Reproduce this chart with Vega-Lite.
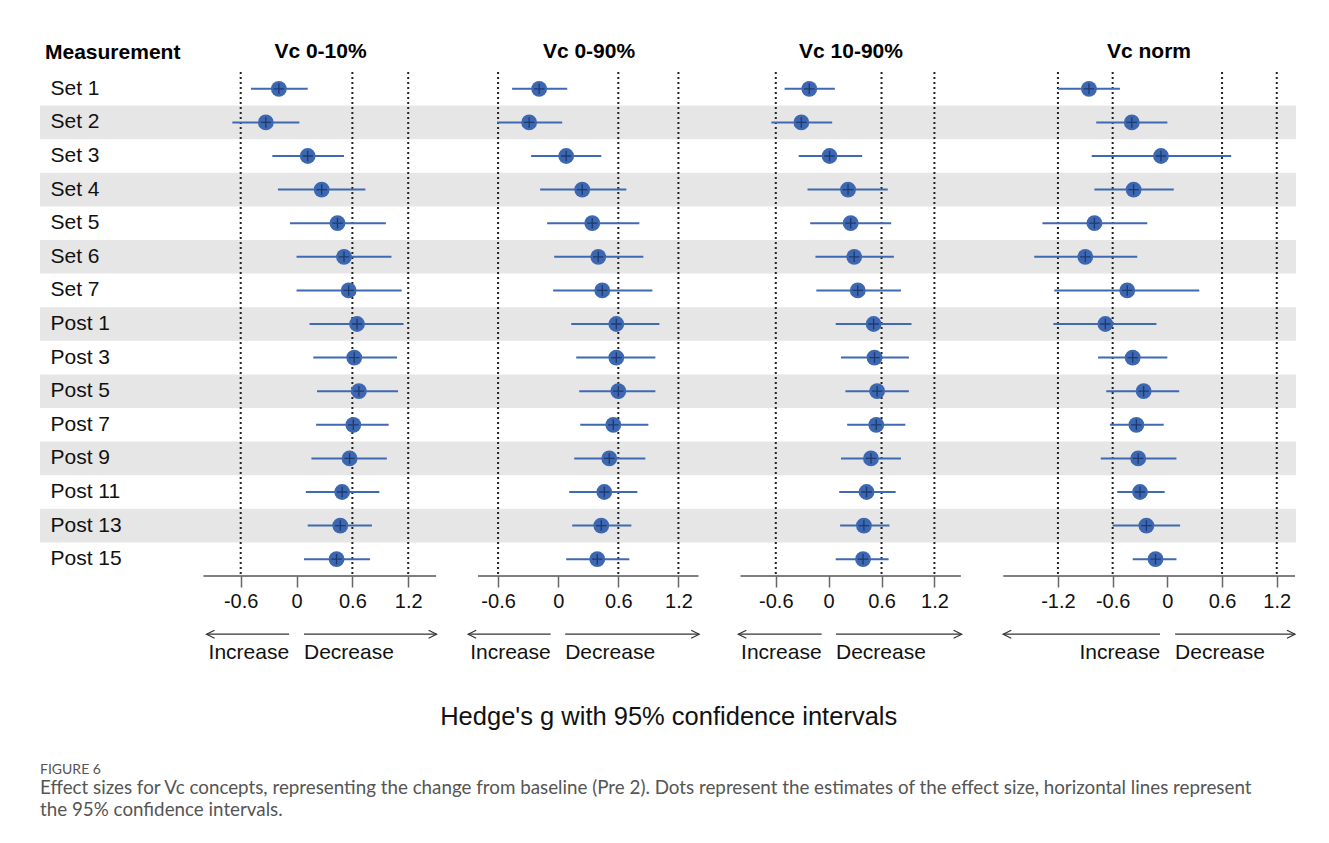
{
  "$schema": "https://vega.github.io/schema/vega-lite/v6.json",
  "background": "white",
  "padding": {"left": 40, "top": 41, "right": 0, "bottom": 0},
  "autosize": {"type": "pad"},
  "config": {
    "font": "Liberation Sans",
    "view": {"stroke": null},
    "locale": {"number": {"decimal": ".", "thousands": ",", "grouping": [3], "currency": ["$", ""], "minus": "-"}},
    "axisX": {"domain": false, "grid": false, "tickSize": 11, "tickColor": "#666", "tickWidth": 1.5, "labelFontSize": 20, "labelColor": "#111", "labelPadding": 4, "title": null, "labelFlush": false, "labelOverlap": false, "format": "~g"},
    "title": {"fontSize": 21, "fontWeight": "bold", "color": "#000", "baseline": "alphabetic", "offset": 9}
  },
  "datasets": {
    "bands": [{"m": "Set 2"}, {"m": "Set 4"}, {"m": "Set 6"}, {"m": "Post 1"}, {"m": "Post 5"}, {"m": "Post 9"}, {"m": "Post 13"}],
    "arrows": [
      {"panel": "Vc 0-10%", "side": "left", "from": -0.967, "to": -0.08, "label": "Increase"},
      {"panel": "Vc 0-10%", "side": "right", "from": 0.08, "to": 1.505, "label": "Decrease"},
      {"panel": "Vc 0-90%", "side": "left", "from": -0.898, "to": -0.075, "label": "Increase"},
      {"panel": "Vc 0-90%", "side": "right", "from": 0.07, "to": 1.407, "label": "Decrease"},
      {"panel": "Vc 10-90%", "side": "left", "from": -1.025, "to": -0.08, "label": "Increase"},
      {"panel": "Vc 10-90%", "side": "right", "from": 0.083, "to": 1.509, "label": "Decrease"},
      {"panel": "Vc norm", "side": "left", "from": -1.8, "to": -0.08, "label": "Increase"},
      {"panel": "Vc norm", "side": "right", "from": 0.085, "to": 1.4, "label": "Decrease"}
    ],
    "est": [
      {"panel": "Vc 0-10%", "m": "Set 1", "g": -0.19, "lo": -0.49, "hi": 0.12},
      {"panel": "Vc 0-10%", "m": "Set 2", "g": -0.33, "lo": -0.69, "hi": 0.03},
      {"panel": "Vc 0-10%", "m": "Set 3", "g": 0.12, "lo": -0.26, "hi": 0.51},
      {"panel": "Vc 0-10%", "m": "Set 4", "g": 0.27, "lo": -0.2, "hi": 0.74},
      {"panel": "Vc 0-10%", "m": "Set 5", "g": 0.44, "lo": -0.07, "hi": 0.96},
      {"panel": "Vc 0-10%", "m": "Set 6", "g": 0.51, "lo": 0.0, "hi": 1.02},
      {"panel": "Vc 0-10%", "m": "Set 7", "g": 0.56, "lo": 0.0, "hi": 1.13},
      {"panel": "Vc 0-10%", "m": "Post 1", "g": 0.65, "lo": 0.14, "hi": 1.15},
      {"panel": "Vc 0-10%", "m": "Post 3", "g": 0.62, "lo": 0.18, "hi": 1.08},
      {"panel": "Vc 0-10%", "m": "Post 5", "g": 0.67, "lo": 0.22, "hi": 1.09},
      {"panel": "Vc 0-10%", "m": "Post 7", "g": 0.61, "lo": 0.21, "hi": 0.99},
      {"panel": "Vc 0-10%", "m": "Post 9", "g": 0.57, "lo": 0.16, "hi": 0.97},
      {"panel": "Vc 0-10%", "m": "Post 11", "g": 0.49, "lo": 0.1, "hi": 0.89},
      {"panel": "Vc 0-10%", "m": "Post 13", "g": 0.47, "lo": 0.12, "hi": 0.81},
      {"panel": "Vc 0-10%", "m": "Post 15", "g": 0.43, "lo": 0.08, "hi": 0.79},
      {"panel": "Vc 0-90%", "m": "Set 1", "g": -0.19, "lo": -0.46, "hi": 0.09},
      {"panel": "Vc 0-90%", "m": "Set 2", "g": -0.29, "lo": -0.61, "hi": 0.04},
      {"panel": "Vc 0-90%", "m": "Set 3", "g": 0.08, "lo": -0.27, "hi": 0.43},
      {"panel": "Vc 0-90%", "m": "Set 4", "g": 0.24, "lo": -0.18, "hi": 0.68},
      {"panel": "Vc 0-90%", "m": "Set 5", "g": 0.34, "lo": -0.11, "hi": 0.81},
      {"panel": "Vc 0-90%", "m": "Set 6", "g": 0.4, "lo": -0.04, "hi": 0.85},
      {"panel": "Vc 0-90%", "m": "Set 7", "g": 0.44, "lo": -0.05, "hi": 0.94},
      {"panel": "Vc 0-90%", "m": "Post 1", "g": 0.58, "lo": 0.13, "hi": 1.01},
      {"panel": "Vc 0-90%", "m": "Post 3", "g": 0.58, "lo": 0.18, "hi": 0.97},
      {"panel": "Vc 0-90%", "m": "Post 5", "g": 0.6, "lo": 0.21, "hi": 0.97},
      {"panel": "Vc 0-90%", "m": "Post 7", "g": 0.55, "lo": 0.22, "hi": 0.9},
      {"panel": "Vc 0-90%", "m": "Post 9", "g": 0.51, "lo": 0.16, "hi": 0.87},
      {"panel": "Vc 0-90%", "m": "Post 11", "g": 0.46, "lo": 0.11, "hi": 0.79},
      {"panel": "Vc 0-90%", "m": "Post 13", "g": 0.43, "lo": 0.14, "hi": 0.73},
      {"panel": "Vc 0-90%", "m": "Post 15", "g": 0.39, "lo": 0.08, "hi": 0.71},
      {"panel": "Vc 10-90%", "m": "Set 1", "g": -0.22, "lo": -0.5, "hi": 0.07},
      {"panel": "Vc 10-90%", "m": "Set 2", "g": -0.31, "lo": -0.65, "hi": 0.04},
      {"panel": "Vc 10-90%", "m": "Set 3", "g": 0.01, "lo": -0.34, "hi": 0.38},
      {"panel": "Vc 10-90%", "m": "Set 4", "g": 0.22, "lo": -0.24, "hi": 0.67},
      {"panel": "Vc 10-90%", "m": "Set 5", "g": 0.25, "lo": -0.21, "hi": 0.71},
      {"panel": "Vc 10-90%", "m": "Set 6", "g": 0.29, "lo": -0.15, "hi": 0.74},
      {"panel": "Vc 10-90%", "m": "Set 7", "g": 0.33, "lo": -0.14, "hi": 0.82},
      {"panel": "Vc 10-90%", "m": "Post 1", "g": 0.51, "lo": 0.08, "hi": 0.94},
      {"panel": "Vc 10-90%", "m": "Post 3", "g": 0.52, "lo": 0.14, "hi": 0.91},
      {"panel": "Vc 10-90%", "m": "Post 5", "g": 0.55, "lo": 0.19, "hi": 0.91},
      {"panel": "Vc 10-90%", "m": "Post 7", "g": 0.54, "lo": 0.21, "hi": 0.87},
      {"panel": "Vc 10-90%", "m": "Post 9", "g": 0.48, "lo": 0.14, "hi": 0.82},
      {"panel": "Vc 10-90%", "m": "Post 11", "g": 0.43, "lo": 0.12, "hi": 0.76},
      {"panel": "Vc 10-90%", "m": "Post 13", "g": 0.4, "lo": 0.13, "hi": 0.69},
      {"panel": "Vc 10-90%", "m": "Post 15", "g": 0.39, "lo": 0.08, "hi": 0.68},
      {"panel": "Vc norm", "m": "Set 1", "g": -0.86, "lo": -1.2, "hi": -0.52},
      {"panel": "Vc norm", "m": "Set 2", "g": -0.39, "lo": -0.78, "hi": 0.0},
      {"panel": "Vc norm", "m": "Set 3", "g": -0.07, "lo": -0.83, "hi": 0.7},
      {"panel": "Vc norm", "m": "Set 4", "g": -0.37, "lo": -0.8, "hi": 0.07},
      {"panel": "Vc norm", "m": "Set 5", "g": -0.8, "lo": -1.37, "hi": -0.22},
      {"panel": "Vc norm", "m": "Set 6", "g": -0.9, "lo": -1.46, "hi": -0.33},
      {"panel": "Vc norm", "m": "Set 7", "g": -0.44, "lo": -1.24, "hi": 0.35},
      {"panel": "Vc norm", "m": "Post 1", "g": -0.68, "lo": -1.25, "hi": -0.12},
      {"panel": "Vc norm", "m": "Post 3", "g": -0.38, "lo": -0.76, "hi": 0.0},
      {"panel": "Vc norm", "m": "Post 5", "g": -0.26, "lo": -0.67, "hi": 0.13},
      {"panel": "Vc norm", "m": "Post 7", "g": -0.34, "lo": -0.63, "hi": -0.04},
      {"panel": "Vc norm", "m": "Post 9", "g": -0.32, "lo": -0.73, "hi": 0.1},
      {"panel": "Vc norm", "m": "Post 11", "g": -0.3, "lo": -0.55, "hi": -0.03},
      {"panel": "Vc norm", "m": "Post 13", "g": -0.23, "lo": -0.6, "hi": 0.14},
      {"panel": "Vc norm", "m": "Post 15", "g": -0.13, "lo": -0.38, "hi": 0.1}
    ]
  },
  "title": {
    "text": "FIGURE 6",
    "subtitle": ["Effect sizes for Vc concepts, representing the change from baseline (Pre 2). Dots represent the estimates of the effect size, horizontal lines represent", "the 95% confidence intervals."],
    "orient": "bottom", "anchor": "start", "frame": "bounds",
    "font": "Lato", "fontSize": 14, "fontWeight": "normal", "color": "#555",
    "subtitleFont": "Lato", "subtitleFontSize": 18.8, "subtitleColor": "#555", "subtitleLineHeight": 22, "subtitlePadding": 6,
    "offset": 43, "baseline": "alphabetic"
  },
  "vconcat": [
    {
      "title": {"text": "Hedge's g with 95% confidence intervals", "orient": "bottom", "anchor": "middle", "fontSize": 25.5, "fontWeight": "normal", "color": "#111", "offset": 60, "baseline": "alphabetic"},
      "spacing": 0,
      "resolve": {"scale": {"x": "independent", "y": "independent"}, "axis": {"x": "independent", "y": "independent"}},
      "hconcat": [
        {
          "width": 143, "height": 504,
          "title": {"text": "Measurement", "anchor": "start", "dx": 5},
          "layer": [
            {"data": {"name": "bands"}, "mark": {"type": "rect", "color": "#e6e6e6"},
             "encoding": {"y": {"field": "m", "type": "nominal",
               "scale": {"type": "band", "domain": ["Set 1", "Set 2", "Set 3", "Set 4", "Set 5", "Set 6", "Set 7", "Post 1", "Post 3", "Post 5", "Post 7", "Post 9", "Post 11", "Post 13", "Post 15"], "paddingInner": 0, "paddingOuter": 0},
               "axis": {"labelAlign": "left", "labelPadding": -10, "ticks": false, "tickSize": 0, "domain": false, "labelFontSize": 21, "labelColor": "#111", "title": null, "labelLimit": 200}}}},
            {"mark": {"type": "rule", "color": "#111", "strokeWidth": 2.5},
             "encoding": {"y": {"datum": "Set 1", "bandPosition": 0}}}
          ]
        },
        {
          "spacing": 10,
          "resolve": {"scale": {"x": "independent", "y": "independent"}},
          "vconcat": [
            {
              "width": 275, "height": 504,
              "title": {"text": "Vc 0-10%"},
              "layer": [
                {"data": {"name": "bands"}, "mark": {"type": "rect", "color": "#e6e6e6"},
                 "encoding": {"y": {"field": "m", "type": "nominal",
                   "scale": {"type": "band", "domain": ["Set 1", "Set 2", "Set 3", "Set 4", "Set 5", "Set 6", "Set 7", "Post 1", "Post 3", "Post 5", "Post 7", "Post 9", "Post 11", "Post 13", "Post 15"], "paddingInner": 0, "paddingOuter": 0}, "axis": null}}},
                {"data": {"values": [{"v": -0.6}, {"v": 0.6}, {"v": 1.2}]},
                 "mark": {"type": "rule", "color": "#222", "strokeWidth": 2, "strokeDash": [2, 3]},
                 "encoding": {"x": {"field": "v", "type": "quantitative", "scale": {"domain": [-1.22, 1.735], "nice": false, "zero": false}, "axis": {"values": [-0.6, 0, 0.6, 1.2], "title": null, "format": "~g"}}}},
                {"mark": {"type": "rule", "color": "#333", "strokeWidth": 2}, "encoding": {"x": {"datum": 0}}},
                {"data": {"values": [{"a": -1.0, "b": 1.5}]},
                 "mark": {"type": "rule", "color": "#555", "strokeWidth": 1.5},
                 "encoding": {"x": {"field": "a", "type": "quantitative"}, "x2": {"field": "b"}, "y": {"datum": "Post 15", "bandPosition": 1, "axis": null}}},
                {"mark": {"type": "rule", "color": "#111", "strokeWidth": 2.5},
                 "encoding": {"y": {"datum": "Set 1", "bandPosition": 0, "axis": null}}},
                {"data": {"name": "est"}, "transform": [{"filter": "datum.panel === 'Vc 0-10%'"}],
                 "mark": {"type": "rule", "color": "#3f69b2", "strokeWidth": 2},
                 "encoding": {"y": {"field": "m", "type": "nominal", "axis": null}, "x": {"field": "lo", "type": "quantitative"}, "x2": {"field": "hi"}}},
                {"data": {"name": "est"}, "transform": [{"filter": "datum.panel === 'Vc 0-10%'"}],
                 "mark": {"type": "point", "filled": true, "size": 250, "color": "#3d67b0", "opacity": 1},
                 "encoding": {"y": {"field": "m", "type": "nominal", "axis": null}, "x": {"field": "g", "type": "quantitative"}}},
                {"data": {"name": "est"}, "transform": [{"filter": "datum.panel === 'Vc 0-10%'"}],
                 "mark": {"type": "point", "shape": "M-1,0L1,0M0,-1L0,1", "size": 110, "filled": false, "color": "#1d3a70", "strokeWidth": 1.3, "opacity": 1},
                 "encoding": {"y": {"field": "m", "type": "nominal", "axis": null}, "x": {"field": "g", "type": "quantitative"}}}
              ]
            },
            {
              "width": 275, "height": 44,
              "data": {"name": "arrows"}, "transform": [{"filter": "datum.panel === 'Vc 0-10%'"}],
              "layer": [
                {"mark": {"type": "rule", "color": "#333", "strokeWidth": 1.2},
                 "encoding": {"x": {"field": "from", "type": "quantitative", "scale": {"domain": [-1.22, 1.735], "nice": false, "zero": false}, "axis": null}, "x2": {"field": "to"}, "y": {"datum": 0.7, "type": "quantitative", "scale": {"domain": [0, 1]}, "axis": null}}},
                {"transform": [{"filter": "datum.side === 'left'"}],
                 "mark": {"type": "point", "shape": "M1,-0.5L0,0L1,0.5", "size": 256, "filled": false, "color": "#333", "strokeWidth": 1.2, "opacity": 1},
                 "encoding": {"x": {"field": "from", "type": "quantitative"}, "y": {"datum": 0.7, "type": "quantitative"}}},
                {"transform": [{"filter": "datum.side === 'right'"}],
                 "mark": {"type": "point", "shape": "M-1,-0.5L0,0L-1,0.5", "size": 256, "filled": false, "color": "#333", "strokeWidth": 1.2, "opacity": 1},
                 "encoding": {"x": {"field": "to", "type": "quantitative"}, "y": {"datum": 0.7, "type": "quantitative"}}},
                {"transform": [{"filter": "datum.side === 'left'"}],
                 "mark": {"type": "text", "align": "right", "baseline": "middle", "fontSize": 21, "color": "#111"},
                 "encoding": {"x": {"field": "to", "type": "quantitative"}, "y": {"datum": 0.27, "type": "quantitative"}, "text": {"field": "label"}}},
                {"transform": [{"filter": "datum.side === 'right'"}],
                 "mark": {"type": "text", "align": "left", "baseline": "middle", "fontSize": 21, "color": "#111"},
                 "encoding": {"x": {"field": "from", "type": "quantitative"}, "y": {"datum": 0.27, "type": "quantitative"}, "text": {"field": "label"}}}
              ]
            }
          ]
        },
        {
          "spacing": 10,
          "resolve": {"scale": {"x": "independent", "y": "independent"}},
          "vconcat": [
            {
              "width": 262, "height": 504,
              "title": {"text": "Vc 0-90%"},
              "layer": [
                {"data": {"name": "bands"}, "mark": {"type": "rect", "color": "#e6e6e6"},
                 "encoding": {"y": {"field": "m", "type": "nominal",
                   "scale": {"type": "band", "domain": ["Set 1", "Set 2", "Set 3", "Set 4", "Set 5", "Set 6", "Set 7", "Post 1", "Post 3", "Post 5", "Post 7", "Post 9", "Post 11", "Post 13", "Post 15"], "paddingInner": 0, "paddingOuter": 0}, "axis": null}}},
                {"data": {"values": [{"v": -0.6}, {"v": 0.6}, {"v": 1.2}]},
                 "mark": {"type": "rule", "color": "#222", "strokeWidth": 2, "strokeDash": [2, 3]},
                 "encoding": {"x": {"field": "v", "type": "quantitative", "scale": {"domain": [-1.0, 1.615], "nice": false, "zero": false}, "axis": {"values": [-0.6, 0, 0.6, 1.2], "title": null, "format": "~g"}}}},
                {"mark": {"type": "rule", "color": "#333", "strokeWidth": 2}, "encoding": {"x": {"datum": 0}}},
                {"data": {"values": [{"a": -0.8, "b": 1.4}]},
                 "mark": {"type": "rule", "color": "#555", "strokeWidth": 1.5},
                 "encoding": {"x": {"field": "a", "type": "quantitative"}, "x2": {"field": "b"}, "y": {"datum": "Post 15", "bandPosition": 1, "axis": null}}},
                {"mark": {"type": "rule", "color": "#111", "strokeWidth": 2.5},
                 "encoding": {"y": {"datum": "Set 1", "bandPosition": 0, "axis": null}}},
                {"data": {"name": "est"}, "transform": [{"filter": "datum.panel === 'Vc 0-90%'"}],
                 "mark": {"type": "rule", "color": "#3f69b2", "strokeWidth": 2},
                 "encoding": {"y": {"field": "m", "type": "nominal", "axis": null}, "x": {"field": "lo", "type": "quantitative"}, "x2": {"field": "hi"}}},
                {"data": {"name": "est"}, "transform": [{"filter": "datum.panel === 'Vc 0-90%'"}],
                 "mark": {"type": "point", "filled": true, "size": 250, "color": "#3d67b0", "opacity": 1},
                 "encoding": {"y": {"field": "m", "type": "nominal", "axis": null}, "x": {"field": "g", "type": "quantitative"}}},
                {"data": {"name": "est"}, "transform": [{"filter": "datum.panel === 'Vc 0-90%'"}],
                 "mark": {"type": "point", "shape": "M-1,0L1,0M0,-1L0,1", "size": 110, "filled": false, "color": "#1d3a70", "strokeWidth": 1.3, "opacity": 1},
                 "encoding": {"y": {"field": "m", "type": "nominal", "axis": null}, "x": {"field": "g", "type": "quantitative"}}}
              ]
            },
            {
              "width": 262, "height": 44,
              "data": {"name": "arrows"}, "transform": [{"filter": "datum.panel === 'Vc 0-90%'"}],
              "layer": [
                {"mark": {"type": "rule", "color": "#333", "strokeWidth": 1.2},
                 "encoding": {"x": {"field": "from", "type": "quantitative", "scale": {"domain": [-1.0, 1.615], "nice": false, "zero": false}, "axis": null}, "x2": {"field": "to"}, "y": {"datum": 0.7, "type": "quantitative", "scale": {"domain": [0, 1]}, "axis": null}}},
                {"transform": [{"filter": "datum.side === 'left'"}],
                 "mark": {"type": "point", "shape": "M1,-0.5L0,0L1,0.5", "size": 256, "filled": false, "color": "#333", "strokeWidth": 1.2, "opacity": 1},
                 "encoding": {"x": {"field": "from", "type": "quantitative"}, "y": {"datum": 0.7, "type": "quantitative"}}},
                {"transform": [{"filter": "datum.side === 'right'"}],
                 "mark": {"type": "point", "shape": "M-1,-0.5L0,0L-1,0.5", "size": 256, "filled": false, "color": "#333", "strokeWidth": 1.2, "opacity": 1},
                 "encoding": {"x": {"field": "to", "type": "quantitative"}, "y": {"datum": 0.7, "type": "quantitative"}}},
                {"transform": [{"filter": "datum.side === 'left'"}],
                 "mark": {"type": "text", "align": "right", "baseline": "middle", "fontSize": 21, "color": "#111"},
                 "encoding": {"x": {"field": "to", "type": "quantitative"}, "y": {"datum": 0.27, "type": "quantitative"}, "text": {"field": "label"}}},
                {"transform": [{"filter": "datum.side === 'right'"}],
                 "mark": {"type": "text", "align": "left", "baseline": "middle", "fontSize": 21, "color": "#111"},
                 "encoding": {"x": {"field": "from", "type": "quantitative"}, "y": {"datum": 0.27, "type": "quantitative"}, "text": {"field": "label"}}}
              ]
            }
          ]
        },
        {
          "spacing": 10,
          "resolve": {"scale": {"x": "independent", "y": "independent"}},
          "vconcat": [
            {
              "width": 262, "height": 504,
              "title": {"text": "Vc 10-90%"},
              "layer": [
                {"data": {"name": "bands"}, "mark": {"type": "rect", "color": "#e6e6e6"},
                 "encoding": {"y": {"field": "m", "type": "nominal",
                   "scale": {"type": "band", "domain": ["Set 1", "Set 2", "Set 3", "Set 4", "Set 5", "Set 6", "Set 7", "Post 1", "Post 3", "Post 5", "Post 7", "Post 9", "Post 11", "Post 13", "Post 15"], "paddingInner": 0, "paddingOuter": 0}, "axis": null}}},
                {"data": {"values": [{"v": -0.6}, {"v": 0.6}, {"v": 1.2}]},
                 "mark": {"type": "rule", "color": "#222", "strokeWidth": 2, "strokeDash": [2, 3]},
                 "encoding": {"x": {"field": "v", "type": "quantitative", "scale": {"domain": [-1.233, 1.74], "nice": false, "zero": false}, "axis": {"values": [-0.6, 0, 0.6, 1.2], "title": null, "format": "~g"}}}},
                {"mark": {"type": "rule", "color": "#333", "strokeWidth": 2}, "encoding": {"x": {"datum": 0}}},
                {"data": {"values": [{"a": -1.0, "b": 1.5}]},
                 "mark": {"type": "rule", "color": "#555", "strokeWidth": 1.5},
                 "encoding": {"x": {"field": "a", "type": "quantitative"}, "x2": {"field": "b"}, "y": {"datum": "Post 15", "bandPosition": 1, "axis": null}}},
                {"mark": {"type": "rule", "color": "#111", "strokeWidth": 2.5},
                 "encoding": {"y": {"datum": "Set 1", "bandPosition": 0, "axis": null}}},
                {"data": {"name": "est"}, "transform": [{"filter": "datum.panel === 'Vc 10-90%'"}],
                 "mark": {"type": "rule", "color": "#3f69b2", "strokeWidth": 2},
                 "encoding": {"y": {"field": "m", "type": "nominal", "axis": null}, "x": {"field": "lo", "type": "quantitative"}, "x2": {"field": "hi"}}},
                {"data": {"name": "est"}, "transform": [{"filter": "datum.panel === 'Vc 10-90%'"}],
                 "mark": {"type": "point", "filled": true, "size": 250, "color": "#3d67b0", "opacity": 1},
                 "encoding": {"y": {"field": "m", "type": "nominal", "axis": null}, "x": {"field": "g", "type": "quantitative"}}},
                {"data": {"name": "est"}, "transform": [{"filter": "datum.panel === 'Vc 10-90%'"}],
                 "mark": {"type": "point", "shape": "M-1,0L1,0M0,-1L0,1", "size": 110, "filled": false, "color": "#1d3a70", "strokeWidth": 1.3, "opacity": 1},
                 "encoding": {"y": {"field": "m", "type": "nominal", "axis": null}, "x": {"field": "g", "type": "quantitative"}}}
              ]
            },
            {
              "width": 262, "height": 44,
              "data": {"name": "arrows"}, "transform": [{"filter": "datum.panel === 'Vc 10-90%'"}],
              "layer": [
                {"mark": {"type": "rule", "color": "#333", "strokeWidth": 1.2},
                 "encoding": {"x": {"field": "from", "type": "quantitative", "scale": {"domain": [-1.233, 1.74], "nice": false, "zero": false}, "axis": null}, "x2": {"field": "to"}, "y": {"datum": 0.7, "type": "quantitative", "scale": {"domain": [0, 1]}, "axis": null}}},
                {"transform": [{"filter": "datum.side === 'left'"}],
                 "mark": {"type": "point", "shape": "M1,-0.5L0,0L1,0.5", "size": 256, "filled": false, "color": "#333", "strokeWidth": 1.2, "opacity": 1},
                 "encoding": {"x": {"field": "from", "type": "quantitative"}, "y": {"datum": 0.7, "type": "quantitative"}}},
                {"transform": [{"filter": "datum.side === 'right'"}],
                 "mark": {"type": "point", "shape": "M-1,-0.5L0,0L-1,0.5", "size": 256, "filled": false, "color": "#333", "strokeWidth": 1.2, "opacity": 1},
                 "encoding": {"x": {"field": "to", "type": "quantitative"}, "y": {"datum": 0.7, "type": "quantitative"}}},
                {"transform": [{"filter": "datum.side === 'left'"}],
                 "mark": {"type": "text", "align": "right", "baseline": "middle", "fontSize": 21, "color": "#111"},
                 "encoding": {"x": {"field": "to", "type": "quantitative"}, "y": {"datum": 0.27, "type": "quantitative"}, "text": {"field": "label"}}},
                {"transform": [{"filter": "datum.side === 'right'"}],
                 "mark": {"type": "text", "align": "left", "baseline": "middle", "fontSize": 21, "color": "#111"},
                 "encoding": {"x": {"field": "from", "type": "quantitative"}, "y": {"datum": 0.27, "type": "quantitative"}, "text": {"field": "label"}}}
              ]
            }
          ]
        },
        {
          "spacing": 10,
          "resolve": {"scale": {"x": "independent", "y": "independent"}},
          "vconcat": [
            {
              "width": 314, "height": 504,
              "title": {"text": "Vc norm", "dx": 10},
              "layer": [
                {"data": {"name": "bands"}, "mark": {"type": "rect", "color": "#e6e6e6"},
                 "encoding": {"y": {"field": "m", "type": "nominal",
                   "scale": {"type": "band", "domain": ["Set 1", "Set 2", "Set 3", "Set 4", "Set 5", "Set 6", "Set 7", "Post 1", "Post 3", "Post 5", "Post 7", "Post 9", "Post 11", "Post 13", "Post 15"], "paddingInner": 0, "paddingOuter": 0}, "axis": null}}},
                {"data": {"values": [{"v": -1.2}, {"v": -0.6}, {"v": 0.6}, {"v": 1.2}]},
                 "mark": {"type": "rule", "color": "#222", "strokeWidth": 2, "strokeDash": [2, 3]},
                 "encoding": {"x": {"field": "v", "type": "quantitative", "scale": {"domain": [-2.033, 1.411], "nice": false, "zero": false}, "axis": {"values": [-1.2, -0.6, 0, 0.6, 1.2], "title": null, "format": "~g"}}}},
                {"mark": {"type": "rule", "color": "#333", "strokeWidth": 2}, "encoding": {"x": {"datum": 0}}},
                {"data": {"values": [{"a": -1.8, "b": 1.4}]},
                 "mark": {"type": "rule", "color": "#555", "strokeWidth": 1.5},
                 "encoding": {"x": {"field": "a", "type": "quantitative"}, "x2": {"field": "b"}, "y": {"datum": "Post 15", "bandPosition": 1, "axis": null}}},
                {"mark": {"type": "rule", "color": "#111", "strokeWidth": 2.5},
                 "encoding": {"y": {"datum": "Set 1", "bandPosition": 0, "axis": null}}},
                {"data": {"name": "est"}, "transform": [{"filter": "datum.panel === 'Vc norm'"}],
                 "mark": {"type": "rule", "color": "#3f69b2", "strokeWidth": 2},
                 "encoding": {"y": {"field": "m", "type": "nominal", "axis": null}, "x": {"field": "lo", "type": "quantitative"}, "x2": {"field": "hi"}}},
                {"data": {"name": "est"}, "transform": [{"filter": "datum.panel === 'Vc norm'"}],
                 "mark": {"type": "point", "filled": true, "size": 250, "color": "#3d67b0", "opacity": 1},
                 "encoding": {"y": {"field": "m", "type": "nominal", "axis": null}, "x": {"field": "g", "type": "quantitative"}}},
                {"data": {"name": "est"}, "transform": [{"filter": "datum.panel === 'Vc norm'"}],
                 "mark": {"type": "point", "shape": "M-1,0L1,0M0,-1L0,1", "size": 110, "filled": false, "color": "#1d3a70", "strokeWidth": 1.3, "opacity": 1},
                 "encoding": {"y": {"field": "m", "type": "nominal", "axis": null}, "x": {"field": "g", "type": "quantitative"}}}
              ]
            },
            {
              "width": 314, "height": 44,
              "data": {"name": "arrows"}, "transform": [{"filter": "datum.panel === 'Vc norm'"}],
              "layer": [
                {"mark": {"type": "rule", "color": "#333", "strokeWidth": 1.2},
                 "encoding": {"x": {"field": "from", "type": "quantitative", "scale": {"domain": [-2.033, 1.411], "nice": false, "zero": false}, "axis": null}, "x2": {"field": "to"}, "y": {"datum": 0.7, "type": "quantitative", "scale": {"domain": [0, 1]}, "axis": null}}},
                {"transform": [{"filter": "datum.side === 'left'"}],
                 "mark": {"type": "point", "shape": "M1,-0.5L0,0L1,0.5", "size": 256, "filled": false, "color": "#333", "strokeWidth": 1.2, "opacity": 1},
                 "encoding": {"x": {"field": "from", "type": "quantitative"}, "y": {"datum": 0.7, "type": "quantitative"}}},
                {"transform": [{"filter": "datum.side === 'right'"}],
                 "mark": {"type": "point", "shape": "M-1,-0.5L0,0L-1,0.5", "size": 256, "filled": false, "color": "#333", "strokeWidth": 1.2, "opacity": 1},
                 "encoding": {"x": {"field": "to", "type": "quantitative"}, "y": {"datum": 0.7, "type": "quantitative"}}},
                {"transform": [{"filter": "datum.side === 'left'"}],
                 "mark": {"type": "text", "align": "right", "baseline": "middle", "fontSize": 21, "color": "#111"},
                 "encoding": {"x": {"field": "to", "type": "quantitative"}, "y": {"datum": 0.27, "type": "quantitative"}, "text": {"field": "label"}}},
                {"transform": [{"filter": "datum.side === 'right'"}],
                 "mark": {"type": "text", "align": "left", "baseline": "middle", "fontSize": 21, "color": "#111"},
                 "encoding": {"x": {"field": "from", "type": "quantitative"}, "y": {"datum": 0.27, "type": "quantitative"}, "text": {"field": "label"}}}
              ]
            }
          ]
        }
      ]
    }
  ]
}
